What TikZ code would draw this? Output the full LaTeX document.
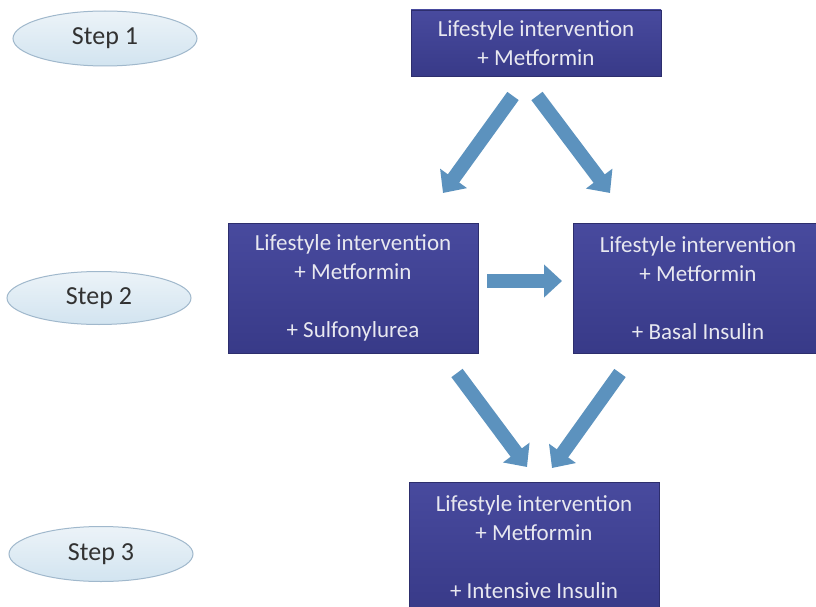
\documentclass[tikz,border=0pt]{standalone}
\usepackage{fontspec}
\setmainfont{Carlito}
\usetikzlibrary{shapes.geometric,arrows.meta}
\definecolor{boxtop}{RGB}{72,74,158}
\definecolor{boxbot}{RGB}{56,58,136}
\definecolor{boxtext}{RGB}{232,232,240}
\definecolor{arrowblue}{RGB}{92,146,190}
\definecolor{elltop}{RGB}{236,243,248}
\definecolor{ellbot}{RGB}{210,228,240}
\definecolor{elldraw}{RGB}{160,184,204}
\definecolor{steptext}{RGB}{50,50,50}
\tikzset{
  treatbox/.style={rectangle, top color=boxtop, bottom color=boxbot, draw=boxbot!80!black, line width=0.6pt,
    minimum width=250pt, inner sep=0pt, align=center, text=boxtext,
    font=\fontsize{23}{29}\selectfont},
  stepoval/.style={ellipse, top color=elltop, bottom color=ellbot, draw=elldraw, line width=1pt,
    minimum width=184pt, minimum height=55pt, inner sep=0pt, text=steptext,
    font=\fontsize{26}{30}\selectfont},
  fatarrow/.style={draw=arrowblue, line width=14pt, -{Triangle[width=32pt,length=18pt]}}
}
\begin{document}
\begin{tikzpicture}[x=1pt,y=-1pt]
\useasboundingbox[fill=white] (0,0) rectangle (816,607);
% step ovals
\node[stepoval] (s1) at (105,38.5) {Step 1};
\node[stepoval, minimum height=53pt] (s2) at (99,298) {Step 2};
\node[stepoval] (s3) at (101,554) {Step 3};
% boxes
\node[treatbox, minimum height=66pt] (top) at (536,43) {Lifestyle intervention\\+ Metformin};
\node[treatbox, minimum height=130pt] (left) at (353,288) {Lifestyle intervention\\+ Metformin\\[29pt]+ Sulfonylurea};
\node[treatbox, minimum height=130pt] (right) at (698,288) {Lifestyle intervention\\+ Metformin\\[29pt]+ Basal Insulin};
\node[treatbox, minimum height=130pt] (bottom) at (534,547) {Lifestyle intervention\\+ Metformin\\[29pt]+ Intensive Insulin};
% arrow end points
\coordinate (a1s) at (513,96);  \coordinate (a1e) at (443,193);
\coordinate (a2s) at (537,96);  \coordinate (a2e) at (610,193);
\coordinate (a3s) at (487,281); \coordinate (a3e) at (562,281);
\coordinate (a4s) at (457,373); \coordinate (a4e) at (527,467);
\coordinate (a5s) at (620,373); \coordinate (a5e) at (552,468);
\draw[fatarrow] (a1s) -- (a1e);
\draw[fatarrow] (a2s) -- (a2e);
\draw[fatarrow] (a3s) -- (a3e);
\draw[fatarrow] (a4s) -- (a4e);
\draw[fatarrow] (a5s) -- (a5e);
\end{tikzpicture}
\end{document}
